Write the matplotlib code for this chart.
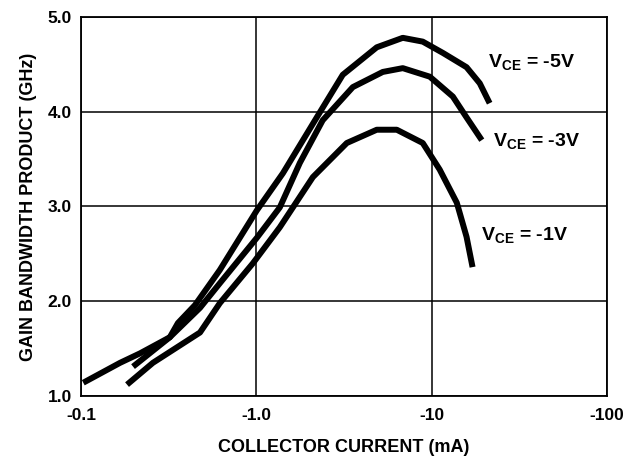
import matplotlib
matplotlib.use('Agg')
import matplotlib.pyplot as plt
from matplotlib.ticker import FixedLocator, FixedFormatter, NullLocator

plt.rcParams['font.family'] = ['Liberation Sans', 'DejaVu Sans']
plt.rcParams['font.weight'] = 'bold'
plt.rcParams['mathtext.fontset'] = 'custom'
plt.rcParams['mathtext.rm'] = 'Liberation Sans:bold'
plt.rcParams['mathtext.bf'] = 'Liberation Sans:bold'
plt.rcParams['mathtext.it'] = 'Liberation Sans:bold'

# collector current magnitude (mA) vs gain bandwidth product (GHz)
ic_5v = [0.198, 0.321, 0.357, 0.447, 0.619, 1.007, 1.416, 2.21, 3.11, 4.86,
         6.84, 8.89, 11.6, 15.8, 18.8, 21.4]
ft_5v = [1.31, 1.62, 1.77, 1.96, 2.33, 2.96, 3.35, 3.94, 4.39, 4.68,
         4.78, 4.74, 4.62, 4.47, 4.30, 4.09]

ic_3v = [0.103, 0.167, 0.217, 0.321, 0.477, 0.619, 1.007, 1.36, 1.77, 2.39,
         3.55, 5.26, 6.84, 9.75, 13.2, 15.8, 19.3]
ft_3v = [1.14, 1.35, 1.45, 1.62, 1.93, 2.19, 2.67, 2.99, 3.46, 3.91,
         4.26, 4.42, 4.46, 4.37, 4.16, 3.94, 3.70]

ic_1v = [0.183, 0.257, 0.477, 0.619, 0.955, 1.36, 2.10, 3.28, 4.86, 6.32,
         8.89, 11.1, 13.9, 15.8, 17.1]
ft_1v = [1.12, 1.35, 1.67, 1.98, 2.40, 2.78, 3.31, 3.67, 3.81, 3.81,
         3.67, 3.39, 3.04, 2.68, 2.36]

x_ticks = [0.1, 1.0, 10, 100]
x_labels = ['-0.1', '-1.0', '-10', '-100']
y_ticks = [1.0, 2.0, 3.0, 4.0, 5.0]
y_labels = ['1.0', '2.0', '3.0', '4.0', '5.0']

fig = plt.figure(figsize=(6.39, 4.59), dpi=100)
ax = fig.add_axes([0.1268, 0.1373, 0.8232, 0.8257])

for xs, ys in [(ic_5v, ft_5v), (ic_3v, ft_3v), (ic_1v, ft_1v)]:
    ax.plot(xs, ys, color='black', lw=4.3, solid_capstyle='butt',
            solid_joinstyle='round')

ax.set_xscale('log')
ax.set_xlim(0.1, 100)
ax.set_ylim(1.0, 5.0)
ax.xaxis.set_major_locator(FixedLocator(x_ticks))
ax.xaxis.set_major_formatter(FixedFormatter(x_labels))
ax.xaxis.set_minor_locator(NullLocator())
ax.yaxis.set_major_locator(FixedLocator(y_ticks))
ax.yaxis.set_major_formatter(FixedFormatter(y_labels))
ax.tick_params(length=0, labelsize=12.5)
ax.tick_params(axis='x', pad=9)
ax.tick_params(axis='y', pad=6.5)
ax.grid(True, color='black', lw=1.1)
for s in ax.spines.values():
    s.set_linewidth(1.3)

ax.set_xlabel('COLLECTOR CURRENT (mA)', fontsize=13, fontweight='bold',
              labelpad=11)
ax.set_ylabel('GAIN BANDWIDTH PRODUCT (GHz)', fontsize=13,
              fontweight='bold', labelpad=8)

ax.text(37, 4.53, r'$\mathbf{V_{CE}}$ = -5V', fontsize=14, ha='center',
        va='center')
ax.text(39.5, 3.69, r'$\mathbf{V_{CE}}$ = -3V', fontsize=14, ha='center',
        va='center')
ax.text(34, 2.70, r'$\mathbf{V_{CE}}$ = -1V', fontsize=14, ha='center',
        va='center')

plt.savefig('out.png')
